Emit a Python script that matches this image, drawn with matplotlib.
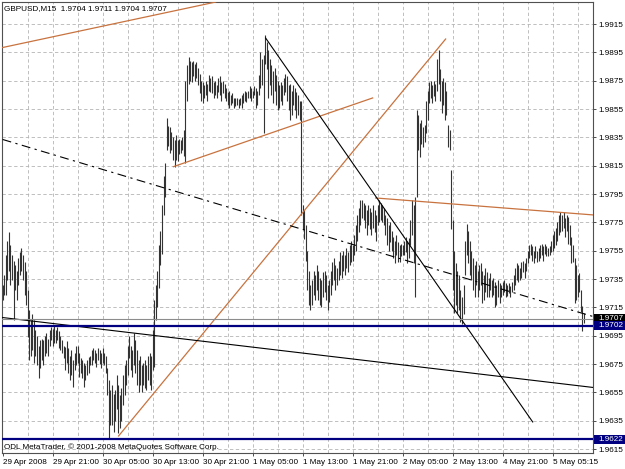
import matplotlib
matplotlib.use("Agg")
import matplotlib.pyplot as plt
from matplotlib.patches import Rectangle
import numpy as np

plt.rcParams['font.family'] = ['Liberation Sans', 'DejaVu Sans']

# --- Data (GBPUSD M15, pips above 1.9600) ---
BASE = 1.9600
high_pips = [
    131, 138, 152, 162, 168, 159, 152, 148, 145, 141, 150, 154, 157, 152, 147, 141, 127,
    113, 106, 110, 106, 99, 95, 88, 92, 93, 92, 95, 97, 93, 99, 101, 100, 102, 99, 101, 98,
    95, 92, 88, 87, 91, 86, 81, 85, 78, 83, 88, 88, 83, 79, 78, 76, 74, 78, 80, 81, 85, 86,
    85, 83, 86, 85, 83, 86, 83, 81, 72, 64, 57,
    60, 54, 57, 67, 60, 53, 58, 67, 74, 78, 88, 95, 88, 85, 97, 92, 85, 78, 81, 74, 76, 78,
    74, 81, 83, 81, 99, 120, 131, 141, 159, 169, 187, 208, 217,
    249, 243, 242, 239, 235, 233, 237, 233, 234, 233, 235, 240, 275, 286, 292, 289, 288, 289,
    287, 288, 284, 280, 275, 274, 272, 275, 273, 279, 277, 278, 274, 275, 272, 277, 278, 274,
    275, 273,
    270, 267, 268, 265, 266, 263, 263, 263, 262, 263, 265, 266, 268, 267, 268, 271, 270, 268,
    271, 270, 268, 279, 295, 290, 293, 307, 302, 297, 290, 286, 282, 284, 279, 275, 272, 274,
    272, 277, 280, 278, 272, 273, 268, 272, 270, 267, 265, 261, 261,
    187, 184, 173, 155, 141, 131, 134, 141, 138, 145, 141, 136, 134, 140, 141, 138, 131, 134,
    141, 147, 150, 145, 143, 148, 154, 152, 155, 152, 157, 154, 159, 162, 159, 166, 173, 180,
    185, 191, 191, 189, 187, 184, 187, 185, 182, 187, 184, 180, 187, 191,
    189, 187, 185, 180, 178, 173, 175, 169, 165, 162,
    166, 161, 159, 160, 159, 162, 165, 162, 164, 177,
    191, 187, 193, 254, 251, 245, 247, 242, 244, 261,
    268, 274, 275, 272, 275, 273, 290, 297, 283, 275,
    277, 274, 268, 244, 240, 212, 177, 155, 146, 141,
    138, 127, 122, 131, 162, 174, 169, 162, 155, 150,
    145, 148, 141, 145, 146, 141, 138, 143, 140, 136,
    139, 134, 136, 133, 131, 134, 132, 131, 133, 134,
    132, 131, 132, 130, 133, 138, 143, 146, 145, 143,
    147, 148, 146, 150, 155, 159, 160, 158, 155, 158,
    155, 157, 159, 160, 158, 160, 158, 157, 158, 162,
    166, 169, 171, 175, 180, 182, 180, 182, 178, 180,
    179, 173, 165, 159, 150, 145, 138, 139, 127, 116,
    111,
]
low_pips = [
    120, 124, 124, 134, 141, 131, 134, 106, 127, 120, 131, 138, 141, 134, 124, 117, 94,
    78, 81, 85, 76, 81, 74, 65, 72, 78, 74, 81, 83, 81, 88, 92, 88, 90, 90, 92, 86,
    85, 83, 79, 71, 76, 69, 64, 67, 59, 71, 74, 76, 66, 69, 65, 59, 64, 67, 69, 74, 74, 78,
    76, 73, 78, 75, 72, 76, 74, 69, 53, 23, 32,
    32, 27, 35, 43, 26, 30, 35, 46, 53, 60, 67, 79, 71, 66, 74, 69, 60, 55, 60, 55, 60, 58,
    57, 64, 60, 57, 71, 73, 106, 115, 129, 145, 153, 180, 193,
    226, 229, 224, 226, 219, 214, 219, 218, 223, 224, 226, 222, 217, 261, 273, 275, 274, 278,
    275, 277, 272, 266, 261, 259, 263, 265, 261, 268, 267, 266, 263, 265, 263, 267, 265, 261,
    266, 263,
    261, 258, 256, 258, 259, 256, 257, 258, 256, 258, 256, 259, 261, 260, 263, 263, 261, 263,
    265, 256, 258, 265, 270, 272, 238, 287, 283, 263, 272, 265, 259, 268, 258, 254, 256, 261,
    258, 265, 267, 261, 254, 247, 251, 258, 254, 249, 251, 247, 180,
    170, 163, 148, 127, 117, 113, 117, 124, 120, 127, 120, 117, 115, 122, 126, 120, 113, 119,
    124, 131, 134, 127, 131, 134, 138, 136, 141, 138, 143, 140, 145, 147, 148, 152, 155, 162,
    168, 173, 178, 177, 171, 166, 173, 170, 166, 171, 168, 162, 173, 175,
    177, 175, 173, 166, 159, 155, 161, 155, 150, 146,
    152, 147, 147, 151, 152, 152, 154, 146, 150, 159,
    166, 146, 122, 193, 226, 221, 230, 228, 232, 238,
    247, 259, 263, 259, 264, 261, 268, 273, 261, 252,
    258, 247, 251, 228, 226, 170, 127, 111, 117, 111,
    113, 105, 103, 110, 138, 152, 146, 138, 134, 127,
    122, 131, 122, 127, 131, 118, 120, 126, 122, 122,
    127, 122, 124, 115, 117, 122, 118, 122, 124, 126,
    122, 123, 125, 122, 126, 127, 131, 134, 133, 134,
    136, 140, 136, 141, 146, 150, 152, 148, 146, 150,
    147, 148, 150, 152, 148, 153, 151, 151, 152, 154,
    155, 157, 159, 162, 166, 168, 169, 171, 165, 169,
    160, 159, 146, 147, 118, 120, 122, 126, 112, 98,
    104,
]

time_labels = ["29 Apr 2008", "29 Apr 21:00", "30 Apr 05:00", "30 Apr 13:00",
               "30 Apr 21:00", "1 May 05:00", "1 May 13:00", "1 May 21:00",
               "2 May 05:00", "2 May 13:00", "4 May 21:00", "5 May 05:15"]
price_levels = [1.9615, 1.9635, 1.9655, 1.9675, 1.9695, 1.9715, 1.9735, 1.9755,
                1.9775, 1.9795, 1.9815, 1.9835, 1.9855, 1.9875, 1.9895, 1.9915]

# trendlines: (bar index, price) pairs
orange_lines = [
    [(-1.3, 1.98981), (136.3, 1.99305)],
    [(109.3, 1.98143), (236.8, 1.98628)],
    [(74.2, 1.96242), (283.5, 1.99044)],
    [(238.7, 1.97922), (378.2, 1.97802)],
]
black_lines = [
    [(168.3, 1.99051), (339.2, 1.96341)],
    [(0.0, 1.97078), (378.2, 1.96584)],
]
dashdot_line = [(0.0, 1.98335), (378.2, 1.97084)]
bid_price = 1.9707
blue_levels = [1.9702, 1.9622]

# --- Figure ---
fig = plt.figure(figsize=(6.25, 4.69), dpi=100)
ax = fig.add_axes([2 / 625, 16 / 469, 591 / 625, 451 / 469])

n = len(high_pips)
idx = np.arange(n)
highs = BASE + np.array(high_pips) / 10000
lows = BASE + np.array(low_pips) / 10000

ax.set_xlim(-0.4, 377.8)
ax.set_ylim(1.961218, 1.993053)

# grid
for p in price_levels:
    ax.axhline(p, color='#b4b4b4', lw=0.6, ls=(0, (4, 3)), zorder=0)
for k in range(16, 378, 16):
    ax.axvline(k, color='#b4b4b4', lw=0.6, ls=(0, (4, 3)), zorder=0)

# bars
ax.vlines(idx, lows, highs, color='#333333', lw=0.8, zorder=2)

# objects
for (x0, y0), (x1, y1) in orange_lines:
    ax.plot([x0, x1], [y0, y1], color='#c8733f', lw=0.9, zorder=3)
for (x0, y0), (x1, y1) in black_lines:
    ax.plot([x0, x1], [y0, y1], color='black', lw=0.8, zorder=3)
ax.plot([dashdot_line[0][0], dashdot_line[1][0]], [dashdot_line[0][1], dashdot_line[1][1]],
        color='black', lw=0.8, ls=(0, (8, 4, 2, 4)), zorder=3)
ax.axhline(bid_price, color='#8c8c8c', lw=0.8, zorder=3)
for p in blue_levels:
    ax.axhline(p, color='#000080', lw=1.6, zorder=4)

# axes
ax.yaxis.tick_right()
ax.set_yticks(price_levels)
ax.set_yticklabels([f"{p:.4f}" for p in price_levels])
ax.set_xticks(range(0, 353, 32))
ax.set_xticklabels(time_labels, ha='left')
ax.tick_params(axis='both', labelsize=5.9, length=2.5, width=0.6, color='#303030', pad=1.5)
for s in ax.spines.values():
    s.set_color('#505050')
    s.set_linewidth(0.8)

# price boxes reaching the right edge of the picture
tr = ax.get_yaxis_transform()
box_h = 9 / 14167
for p, fc, z in [(bid_price, 'black', 5), (blue_levels[0], '#000080', 6), (blue_levels[1], '#000080', 6)]:
    ax.add_patch(Rectangle((1.0025, p - box_h / 2), 0.06, box_h, transform=tr,
                           fc=fc, ec='none', clip_on=False, zorder=z))
    ax.text(1.0085, p, f"{p:.4f}", transform=tr, fontsize=5.9, color='white',
            va='center', ha='left', clip_on=False, zorder=z + 0.5)

ax.text(0.003, 1 - 7 / 451, "GBPUSD,M15  1.9704 1.9711 1.9704 1.9707", transform=ax.transAxes,
        fontsize=5.9, va='center', ha='left')
ax.text(0.004, 6 / 451, "ODL MetaTrader, \u00a9 2001-2008 MetaQuotes Software Corp.",
        transform=ax.transAxes, fontsize=5.9, va='center', ha='left')

fig.savefig("out.png", dpi=100, facecolor='white')
